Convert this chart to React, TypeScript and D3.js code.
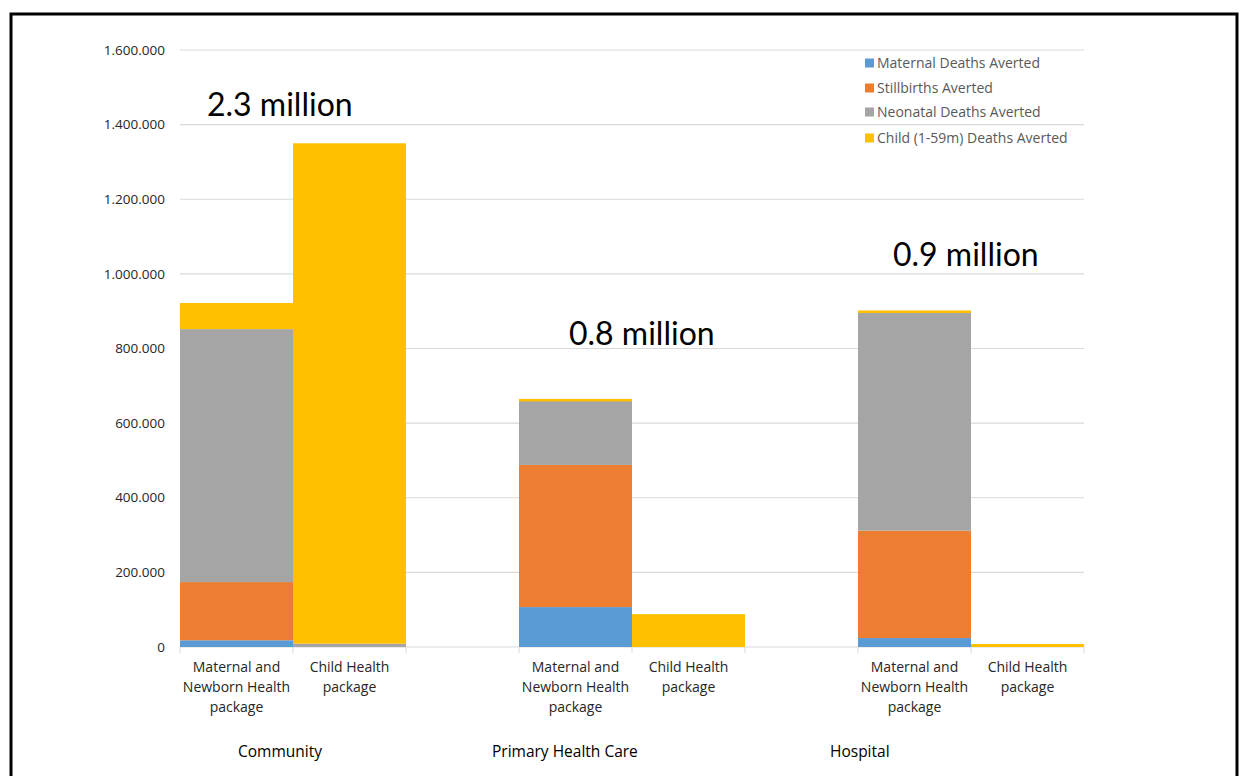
import React from "react";
import * as d3 from "d3";

// ---- data ----
const slots = ["c-mnh", "c-ch", "gap1", "p-mnh", "p-ch", "gap2", "h-mnh", "h-ch"];
const barLabels = [
  ["Maternal and", "Newborn Health", "package"],
  ["Child Health", "package"],
  [],
  ["Maternal and", "Newborn Health", "package"],
  ["Child Health", "package"],
  [],
  ["Maternal and", "Newborn Health", "package"],
  ["Child Health", "package"],
];
const seriesNames = [
  "Maternal Deaths Averted",
  "Stillbirths Averted",
  "Neonatal Deaths Averted",
  "Child (1-59m) Deaths Averted",
];
const maternal = [18000, 0, 0, 107000, 0, 0, 24000, 0];
const stillbirths = [156000, 0, 0, 381000, 0, 0, 288000, 0];
const neonatal = [678000, 9000, 0, 174000, 0, 0, 585000, 0];
const child = [70000, 1341000, 0, 3000, 88000, 0, 5000, 8000];
const yTicks = [0, 200000, 400000, 600000, 800000, 1000000, 1200000, 1400000, 1600000];
const groupNames = ["Community", "Primary Health Care", "Hospital"];
const groupLabelSlot = ["c-mnh", "p-mnh", "h-mnh"];
const totals = ["2.3 million", "0.8 million", "0.9 million"];
const totalValues = [1423000, 810000, 1022000];
const totalSlot = ["c-mnh", "p-mnh", "h-mnh"];

const colors = ["#5b9bd5", "#ed7d31", "#a5a5a5", "#ffc000"];

export default function App() {
  const W = 1248;
  const H = 776;
  const x = d3.scaleBand<string>().domain(slots).range([180, 1084]).padding(0);
  const y = d3.scaleLinear().domain([0, 1600000]).range([647, 50]);
  const fmt = d3
    .formatLocale({ decimal: ",", thousands: ".", grouping: [3], currency: ["", ""] })
    .format(",");

  const rows = slots.map((s, i) => ({
    slot: s,
    s0: maternal[i],
    s1: stillbirths[i],
    s2: neonatal[i],
    s3: child[i],
  }));
  const stack = d3.stack<any>().keys(["s0", "s1", "s2", "s3"]);
  const layers = stack(rows);

  const font = "'Open Sans', 'Noto Sans', sans-serif";
  const bigFont = "Lato, 'Open Sans', sans-serif";

  return (
    <svg
      width={W}
      height={H}
      style={{ position: "absolute", left: 0, top: 0, background: "#fff" }}
    >
      <rect x={0} y={0} width={W} height={H} fill="#fff" />
      <rect x={11} y={14} width={1226} height={790} fill="none" stroke="#000" strokeWidth={3} />

      {/* gridlines */}
      {yTicks.map((t) => (
        <line key={"g" + t} x1={180} x2={1084} y1={y(t)} y2={y(t)} stroke="#d9d9d9" strokeWidth={1.2} />
      ))}
      {/* y tick labels */}
      {yTicks.map((t) => (
        <text
          key={"t" + t}
          x={165}
          y={y(t)}
          dy="0.35em"
          textAnchor="end"
          fontFamily={font}
          fontSize={13.5}
          fill="#262626"
        >
          {fmt(t)}
        </text>
      ))}

      {/* bars */}
      {layers.map((layer, li) => (
        <g key={"l" + li} fill={colors[li]}>
          {layer.map((d: any, i: number) => {
            const h = y(d[0]) - y(d[1]);
            if (h <= 0) return null;
            return (
              <rect
                key={i}
                x={x(slots[i])!}
                y={y(d[1])}
                width={x.bandwidth()}
                height={Math.max(h, 2.5)}
              />
            );
          })}
        </g>
      ))}

      {/* x tick marks */}
      {slots.concat(["end"]).map((s, i) => {
        const xx = 180 + i * x.bandwidth();
        return <line key={"xt" + i} x1={xx} x2={xx} y1={647} y2={653} stroke="#d9d9d9" strokeWidth={1} />;
      })}

      {/* category labels */}
      {barLabels.map((lines, i) => (
        <text
          key={"bl" + i}
          x={x(slots[i])! + x.bandwidth() / 2}
          y={672}
          textAnchor="middle"
          fontFamily={font}
          fontSize={14}
          fill="#262626"
        >
          {lines.map((ln, j) => (
            <tspan key={j} x={x(slots[i])! + x.bandwidth() / 2} dy={j === 0 ? 0 : 20}>
              {ln}
            </tspan>
          ))}
        </text>
      ))}

      {/* group labels */}
      {groupNames.map((g, i) => {
        const offs = [58, -27, -28];
        return (
          <text
            key={"gn" + i}
            x={x(groupLabelSlot[i])! + offs[i]}
            y={757}
            fontFamily={font}
            fontSize={15.5}
            fill="#000"
          >
            {g}
          </text>
        );
      })}

      {/* totals annotations */}
      {totals.map((t, i) => {
        const offs = [27, 50, 35];
        return (
          <text
            key={"tt" + i}
            x={x(totalSlot[i])! + offs[i]}
            y={y(totalValues[i])}
            fontFamily={bigFont}
            fontSize={32}
            fill="#000"
          >
            {t}
          </text>
        );
      })}

      {/* legend */}
      {seriesNames.map((n, i) => {
        const ly = [63, 88, 112, 138][i];
        return (
          <g key={"lg" + i}>
            <rect x={865} y={ly - 4.5} width={9} height={9} fill={colors[i]} />
            <text x={877} y={ly} dy="0.35em" fontFamily={font} fontSize={14} fill="#595959">
              {n}
            </text>
          </g>
        );
      })}
    </svg>
  );
}
